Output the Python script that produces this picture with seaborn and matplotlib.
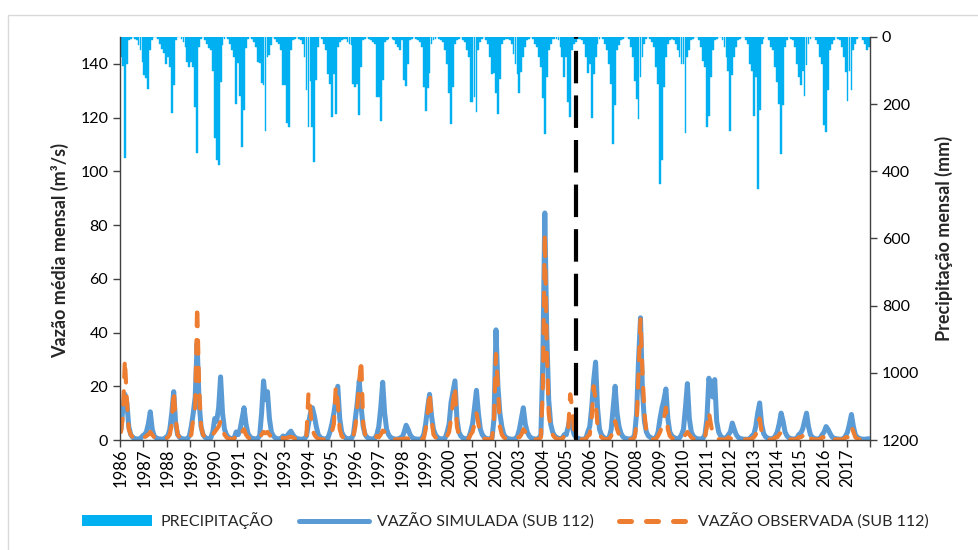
import numpy as np
import pandas as pd
import matplotlib
matplotlib.use('Agg')
import matplotlib.pyplot as plt
import seaborn as sns
from matplotlib.patches import Patch, Rectangle
from matplotlib.lines import Line2D

# anos da serie (mensal, jan/1986 a dez/2017)
anos = list(range(1986, 2018))

# precipitacao mensal (mm) - um ano por linha
precipitacao_mm = [
    60, 85, 360, 80, 8, 5, 0, 5, 10, 25, 40, 75,          # 1986
    113, 122, 155, 40, 10, 0, 0, 5, 20, 35, 48, 80,       # 1987
    60, 90, 226, 143, 10, 0, 0, 5, 15, 30, 75, 89,        # 1988
    75, 89, 207, 345, 30, 5, 0, 10, 20, 33, 40, 100,      # 1989
    300, 366, 381, 134, 25, 5, 0, 5, 20, 40, 60, 200,     # 1990
    77, 175, 327, 217, 33, 5, 0, 5, 15, 30, 75, 77,       # 1991
    137, 143, 280, 60, 54, 24, 0, 5, 15, 20, 40, 143,     # 1992
    143, 257, 267, 40, 9, 5, 0, 5, 10, 20, 60, 158,       # 1993
    268, 130, 267, 372, 128, 30, 0, 5, 20, 40, 110, 140,  # 1994
    238, 110, 229, 30, 15, 10, 5, 5, 15, 20, 25, 140,     # 1995
    150, 140, 232, 90, 10, 5, 0, 5, 10, 15, 20, 180,      # 1996
    180, 250, 128, 15, 10, 5, 0, 5, 10, 20, 30, 40,       # 1997
    10, 128, 145, 80, 10, 5, 0, 5, 10, 15, 30, 150,       # 1998
    220, 152, 107, 20, 10, 5, 0, 5, 10, 15, 40, 80,       # 1999
    167, 259, 150, 20, 10, 5, 0, 10, 15, 40, 60, 193,     # 2000
    195, 180, 223, 40, 15, 5, 0, 10, 20, 60, 110, 107,    # 2001
    167, 229, 125, 20, 10, 5, 5, 10, 20, 50, 80, 110,     # 2002
    167, 104, 60, 30, 10, 5, 0, 5, 20, 30, 60, 90,        # 2003
    182, 289, 119, 40, 20, 5, 5, 5, 10, 30, 60, 120,      # 2004
    60, 193, 238, 40, 20, 15, 5, 5, 10, 20, 60, 107,      # 2005
    80, 241, 110, 60, 20, 5, 0, 5, 20, 40, 80, 140,       # 2006
    318, 202, 40, 25, 10, 5, 0, 0, 5, 30, 60, 130,        # 2007
    185, 244, 120, 60, 20, 5, 0, 5, 15, 30, 90, 140,      # 2008
    437, 366, 150, 60, 20, 10, 5, 10, 20, 40, 60, 80,     # 2009
    80, 286, 60, 40, 10, 5, 0, 0, 10, 30, 70, 89,         # 2010
    268, 235, 120, 40, 10, 5, 0, 0, 10, 30, 60, 100,      # 2011
    280, 113, 60, 30, 10, 5, 0, 0, 10, 20, 80, 100,       # 2012
    235, 120, 452, 217, 20, 5, 0, 0, 10, 30, 40, 90,      # 2013
    134, 200, 348, 202, 30, 10, 0, 5, 10, 30, 80, 120,    # 2014
    143, 100, 176, 83, 20, 5, 0, 0, 10, 20, 60, 80,       # 2015
    262, 283, 158, 40, 20, 10, 0, 5, 10, 30, 60, 104,     # 2016
    190, 100, 158, 40, 20, 5, 0, 0, 10, 20, 40, 30,       # 2017
]

# vazao simulada (m3/s)
vazao_simulada = [
    4, 12, 17, 14, 5, 2, 1, 0.6, 0.4, 0.4, 0.6, 1.5,          # 1986
    2, 3, 6, 10.5, 4, 1.5, 0.8, 0.5, 0.4, 0.3, 0.4, 1,        # 1987
    1.5, 4, 10, 18, 6, 2, 1, 0.6, 0.4, 0.3, 0.5, 1.5,         # 1988
    5, 10, 16, 36, 14, 5, 2, 1, 0.6, 0.5, 0.8, 3,             # 1989
    8, 7, 12, 23.5, 10, 4, 2, 1, 0.6, 0.5, 0.8, 3,            # 1990
    2, 4, 8, 12, 6, 2.5, 1.2, 0.7, 0.5, 0.4, 0.6, 1.5,        # 1991
    10, 22, 15, 18, 8, 3, 1.5, 0.8, 0.5, 0.4, 0.6, 1.5,       # 1992
    1, 1.5, 2.5, 3.3, 2, 1, 0.6, 0.4, 0.3, 0.3, 0.5, 1.5,     # 1993
    6, 10, 12, 9, 5, 2, 1, 0.6, 0.4, 0.4, 0.8, 3,             # 1994
    6, 10, 15, 20, 8, 3, 1.5, 0.8, 0.5, 0.4, 0.6, 2,          # 1995
    8, 14, 22, 12, 5, 2, 1, 0.6, 0.4, 0.4, 0.6, 2,            # 1996
    5, 12, 21.5, 10, 4, 2, 1, 0.6, 0.4, 0.3, 0.4, 0.8,        # 1997
    1, 3, 5.5, 4, 2, 1, 0.5, 0.4, 0.3, 0.3, 0.5, 2,           # 1998
    6, 12, 17, 9, 4, 2, 1, 0.6, 0.4, 0.4, 0.8, 3,             # 1999
    6, 14, 18, 22, 8, 3, 1.5, 0.8, 0.5, 0.4, 0.8, 3,          # 2000
    6, 12, 18.5, 10, 4, 2, 1, 0.6, 0.4, 0.4, 0.8, 8,          # 2001
    41, 20, 10, 5, 2, 1, 0.6, 0.4, 0.3, 0.3, 0.5, 1.5,        # 2002
    4, 8, 12, 6, 3, 1.5, 0.8, 0.5, 0.4, 0.4, 0.6, 2,          # 2003
    30, 84.5, 40, 15, 6, 3, 1.5, 1, 0.6, 0.5, 0.8, 2,         # 2004
    2, 5, 8.5, 5, 2, 1, 0.6, 0.4, 0.3, 0.3, 0.6, 3,           # 2005
    5, 12, 22, 29, 12, 4, 2, 1, 0.6, 0.5, 1, 4,               # 2006
    12, 20, 10, 5, 2.5, 1.2, 0.7, 0.5, 0.4, 0.4, 0.6, 2,      # 2007
    10, 30, 45.5, 18, 7, 3, 1.5, 1, 0.6, 0.5, 1, 3,           # 2008
    8, 12, 15, 19, 8, 3, 1.5, 1, 0.6, 0.5, 0.8, 2,            # 2009
    4, 12, 21, 8, 3, 1.5, 0.8, 0.5, 0.4, 0.4, 0.6, 2,         # 2010
    8, 23, 20, 16, 22.5, 7, 3, 1.5, 0.8, 0.6, 0.8, 2,         # 2011
    3, 6.3, 4, 2, 1, 0.6, 0.4, 0.3, 0.3, 0.3, 0.5, 1.5,       # 2012
    2, 5, 10, 13.8, 6, 2.5, 1.2, 0.8, 0.5, 0.4, 0.6, 1.5,     # 2013
    3, 6, 10, 7, 3, 1.5, 0.8, 0.5, 0.4, 0.4, 0.6, 2,          # 2014
    2.5, 4, 7, 10, 5, 2, 1, 0.6, 0.4, 0.4, 0.6, 2,            # 2015
    3, 5, 4, 2.5, 1.2, 0.7, 0.5, 0.4, 0.3, 0.3, 0.5, 1.5,     # 2016
    3, 6, 9.5, 5, 2, 1, 0.6, 0.4, 0.3, 0.3, 0.4, 0.5,         # 2017
]

# vazao observada (m3/s)
vazao_observada = [
    3, 9, 30, 15, 4, 2, 1, 1, 0.5, 0.5, 0.5, 1,               # 1986
    1, 1.5, 2, 3, 2, 1, 0.5, 0.3, 0.2, 0.2, 0.3, 0.5,         # 1987
    1, 2, 6, 18.5, 8, 2, 1, 0.5, 0.4, 0.3, 0.4, 1,            # 1988
    2, 8, 12, 50, 20, 5, 2, 1, 0.5, 0.5, 0.5, 2,              # 1989
    3, 4, 5, 7, 4, 2, 1, 0.5, 0.4, 0.3, 0.5, 2,               # 1990
    1, 2, 3, 4, 2, 1, 0.5, 0.3, 0.2, 0.2, 0.3, 0.8,           # 1991
    2, 3, 2.5, 3, 2, 1, 0.5, 0.3, 0.2, 0.2, 0.3, 0.8,         # 1992
    0.5, 0.8, 1, 1.2, 1, 0.5, 0.3, 0.2, 0.2, 0.2, 0.3, 2,     # 1993
    17.5, 11, 4, 2, 1, 0.5, 0.3, 0.2, 0.2, 0.2, 0.5, 2,       # 1994
    3, 6, 20, 14, 4, 1.5, 0.8, 0.5, 0.3, 0.3, 0.4, 1.5,       # 1995
    5, 12, 22, 30, 6, 2, 1, 0.5, 0.3, 0.3, 0.4, 1.5,          # 1996
    1, 2, 3.5, 3, 1.5, 0.8, 0.4, 0.3, 0.2, 0.2, 0.2, 0.3,     # 1997
    0.3, 0.5, 0.6, 0.5, 0.4, 0.3, 0.2, 0.2, 0.2, 0.2, 0.3, 0.5,  # 1998
    4, 10, 18, 8, 2, 1, 0.5, 0.3, 0.2, 0.2, 0.4, 1.5,         # 1999
    3, 8, 14, 20, 5, 2, 1, 0.5, 0.3, 0.3, 0.5, 2,             # 2000
    3, 6, 10, 6, 2, 1, 0.5, 0.3, 0.3, 0.3, 0.5, 8,            # 2001
    32, 20, 5, 2, 1, 0.5, 0.3, 0.2, 0.2, 0.2, 0.3, 1,         # 2002
    1, 2, 4, 3, 1.5, 0.8, 0.4, 0.3, 0.2, 0.2, 0.3, 1,         # 2003
    20, 77, 35, 10, 4, 2, 1, 0.5, 0.4, 0.3, 0.5, 1.5,         # 2004
    1, 4, 17, 12, 3, 1, 0.5, 0.3, 0.2, 0.2, 0.4, 1.5,         # 2005
    2, 8, 20, 15, 5, 2, 1, 0.5, 0.3, 0.3, 0.5, 1.5,           # 2006
    5, 7, 4, 2, 1, 0.5, 0.3, 0.2, 0.2, 0.2, 0.3, 1,           # 2007
    6, 25, 45, 25, 10, 3, 1, 0.5, 0.3, 0.3, 0.5, 1.5,         # 2008
    3, 5, 8, 12, 4, 1.5, 0.8, 0.4, 0.3, 0.3, 0.4, 1,          # 2009
    1, 2, 3, 2, 1, 0.5, 0.3, 0.2, 0.2, 0.2, 0.3, 1,           # 2010
    5, 10.5, 6, 2, 1, 0.5, 0.3, 0.2, 0.2, 0.2, 0.3, 1,        # 2011
    0.5, 0.6, 0.5, 0.4, 0.3, 0.3, 0.2, 0.2, 0.2, 0.2, 0.3, 0.5,  # 2012
    1, 2, 5, 8, 3, 1, 0.5, 0.3, 0.2, 0.2, 0.3, 1,             # 2013
    1, 2, 3, 2, 1, 0.5, 0.3, 0.2, 0.2, 0.2, 0.3, 1,           # 2014
    1, 1.5, 2, 3, 1.5, 0.6, 0.3, 0.2, 0.2, 0.2, 0.3, 1,       # 2015
    1, 2, 1.5, 1, 0.5, 0.3, 0.2, 0.2, 0.2, 0.2, 0.3, 1,       # 2016
    1, 3, 5, 3, 1, 0.5, 0.3, 0.2, 0.2, 0.2, 0.2, 0.3,         # 2017
]

# mes que separa calibracao / validacao (jun/2005)
mes_divisao = 233

df = pd.DataFrame({
    'mes': np.arange(len(precipitacao_mm)),
    'precipitacao': precipitacao_mm,
    'simulada': vazao_simulada,
    'observada': vazao_observada,
})

cor_prec = '#00B0F0'
cor_sim = '#5B9BD5'
cor_obs = '#ED7D31'

sns.set_style('white')
plt.rcParams['font.family'] = ['Lato', 'DejaVu Sans']

fig = plt.figure(figsize=(9.79, 5.5), dpi=100)
ax = fig.add_axes([120 / 979, 110 / 550, 750 / 979, 403 / 550])
ax2 = ax.twinx()

# precipitacao (eixo secundario invertido)
sns.barplot(data=df, x='mes', y='precipitacao', ax=ax2, native_scale=True,
            color=cor_prec, saturation=1, width=0.95, edgecolor=cor_prec,
            linewidth=0.3, errorbar=None)

# vazoes
sns.lineplot(data=df, x='mes', y='simulada', ax=ax, color=cor_sim,
             linewidth=3.6, solid_capstyle='round', solid_joinstyle='round')
sns.lineplot(data=df, x='mes', y='observada', ax=ax, color=cor_obs,
             linewidth=3.0, linestyle=(0, (3.2, 3.4)), dash_capstyle='round')
ax.axvline(mes_divisao, color='black', linewidth=3, linestyle=(0, (7.8, 2.9)))

ax.set_zorder(ax2.get_zorder() + 1)
ax.patch.set_visible(False)

ax.set_xlim(-0.5, len(precipitacao_mm) - 0.5)
ax.set_ylim(0, 150)
ax2.set_ylim(1200, 0)
ax.set_yticks(range(0, 141, 20))
ax2.set_yticks(range(0, 1201, 200))

# rotulos dos anos no inicio de cada ano, marcas entre os anos
ax.set_xticks([12 * k for k in range(len(anos))])
ax.set_xticklabels([str(a) for a in anos], rotation=90)
ax.set_xticks([12 * k - 0.5 for k in range(len(anos) + 1)], minor=True)
ax.tick_params(axis='x', which='major', length=0, pad=6, labelsize=12, labelcolor='black')
ax.tick_params(axis='x', which='minor', bottom=True, length=5, width=1, color='#404040')
ax.tick_params(axis='y', left=True, length=5, width=1, color='#404040', labelsize=11.5, labelcolor='black')
ax2.tick_params(axis='y', right=True, length=5, width=1, color='#404040', labelsize=11.5, labelcolor='black')

ax.set_xlabel('')
ax.set_ylabel('Vazão média mensal (m³/s)', fontsize=13, fontweight='bold')
ax.yaxis.set_label_coords(-0.068, 0.47)
ax2.set_ylabel('Precipitação mensal (mm)', fontsize=13, fontweight='bold')
ax2.yaxis.set_label_coords(1.087, 0.5)

for a in (ax, ax2):
    a.spines['top'].set_visible(False)
    for s in ('left', 'right', 'bottom'):
        a.spines[s].set_color('#404040')
        a.spines[s].set_linewidth(1)
ax.spines['right'].set_visible(False)
ax2.spines['left'].set_visible(False)
ax2.spines['bottom'].set_visible(False)

# borda externa do grafico
fig.patches.append(Rectangle((8 / 979, -0.02), 1.0, (535 / 550) + 0.02, transform=fig.transFigure,
                             fill=False, edgecolor='#D9D9D9', linewidth=1))

handles = [
    Patch(facecolor=cor_prec, edgecolor='none'),
    Line2D([0], [0], color=cor_sim, linewidth=3.6, solid_capstyle='round'),
    Line2D([0], [0], color=cor_obs, linewidth=3.6, linestyle=(0, (2.4, 3.0)), dash_capstyle='round'),
]
labels = ['PRECIPITAÇÃO', 'VAZÃO SIMULADA (SUB 112)', 'VAZÃO OBSERVADA (SUB 112)']
fig.legend(handles, labels, loc='center', bbox_to_anchor=(0.516, 0.053), ncol=3, frameon=False,
           fontsize=11.5, handlelength=4.4, handleheight=0.7, handletextpad=0.5, columnspacing=1.6)

fig.savefig('out.png', dpi=100)
